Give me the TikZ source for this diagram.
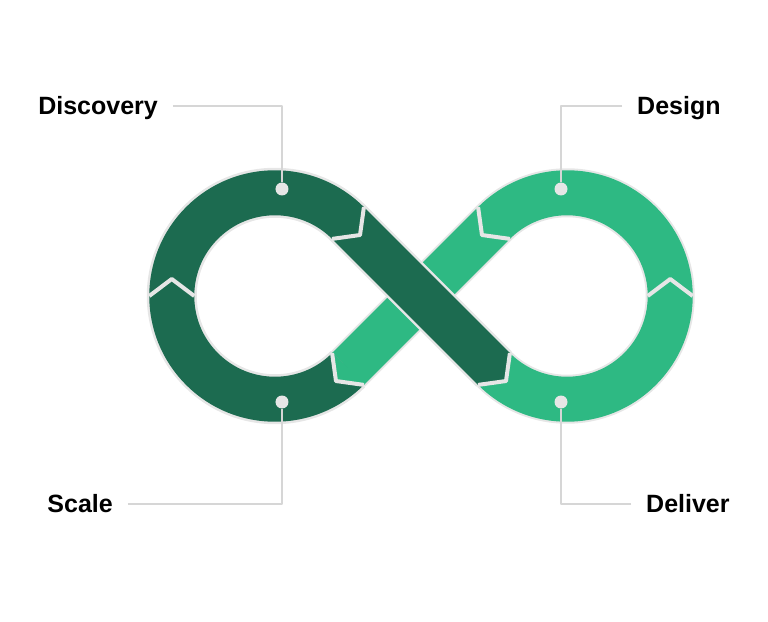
\documentclass[tikz,border=0pt]{standalone}
\usepackage{fontspec}
\setmainfont{Liberation Sans}
\usetikzlibrary{calc}
\definecolor{darkg}{RGB}{28,107,80}
\definecolor{lightg}{RGB}{46,185,131}
\definecolor{rimg}{RGB}{230,230,230}
\definecolor{leadg}{RGB}{214,214,214}
\begin{document}
\begin{tikzpicture}[x=1pt, y=1pt, line join=round,
	lbl/.style={font=\fontsize{25}{30}\selectfont\bfseries, text height=17pt, text depth=0pt, inner ysep=0pt, inner xsep=15pt},
	dot/.style={circle, fill=rimg, inner sep=0pt, minimum size=13pt},
	leader/.style={draw=leadg, line width=1.5pt},
	rim/.style={draw=rimg, line width=49pt},
	band/.style={line width=45pt},
	vee/.style={draw=rimg, line width=4pt}]
			\def\cx{146} \def\rr{103.24} \def\ww{22.5} \def\ad{17} % Kích thước
			\useasboundingbox (-421,-325) rectangle (347,296);
			\coordinate (L) at (-\cx,0);
			\coordinate (R) at (\cx,0);
			\draw[rim] ($(R)+(225:\rr)$) arc[start angle=225, end angle=495, radius=\rr] -- ($(L)+(-45:\rr)$);
			\draw[band,lightg] ($(R)+(225:\rr)$) arc[start angle=225, end angle=495, radius=\rr] -- ($(L)+(-45:\rr)$);
			\draw[rim, line width=50pt] ($(L)+(-45:\rr)$) arc[start angle=-45, end angle=-315, radius=\rr] -- ($(R)+(225:\rr)$);
			\draw[band,darkg] ($(L)+(-45:\rr)$) arc[start angle=-45, end angle=-315, radius=\rr] -- ($(R)+(225:\rr)$);
			\filldraw[darkg, line width=0.8pt] ($(R)+(225:{\rr+\ww})$) -- ($(R)+(225:\rr)+(315:\ad)$) -- ($(R)+(225:{\rr-\ww})$) -- cycle;
			\filldraw[lightg, line width=0.8pt] ($(L)+(315:{\rr+\ww})$) -- ($(L)+(315:\rr)+(225:\ad)$) -- ($(L)+(315:{\rr-\ww})$) -- cycle;
			\foreach \ctr/\ang/\sg in {L/180/-1, L/45/-1, L/315/-1, R/0/1, R/135/1, R/225/1}
			\draw[vee] ($(\ctr)+(\ang:{\rr+\ww})$) -- ($(\ctr)+(\ang:\rr)+({\ang+\sg*90}:\ad)$) -- ($(\ctr)+(\ang:{\rr-\ww})$);
			\node[dot] (dotDisc) at (-139,107) {};
			\node[dot] (dotScale) at (-139,-106) {};
			\node[dot] (dotDesign) at (140,107) {};
			\node[dot] (dotDeliver) at (140,-106) {};
			\node[lbl, anchor=east] (disc) at (-248,190) {Discovery};
			\node[lbl, anchor=west] (design) at (201,190) {Design};
			\node[lbl, anchor=east] (scale) at (-293,-208) {Scale};
			\node[lbl, anchor=west] (deliver) at (210,-208) {Deliver};
			\draw[leader] (disc.east) -| (dotDisc);
			\draw[leader] (design.west) -| (dotDesign);
			\draw[leader] (scale.east) -| (dotScale);
			\draw[leader] (deliver.west) -| (dotDeliver);
		\end{tikzpicture}
\end{document}
